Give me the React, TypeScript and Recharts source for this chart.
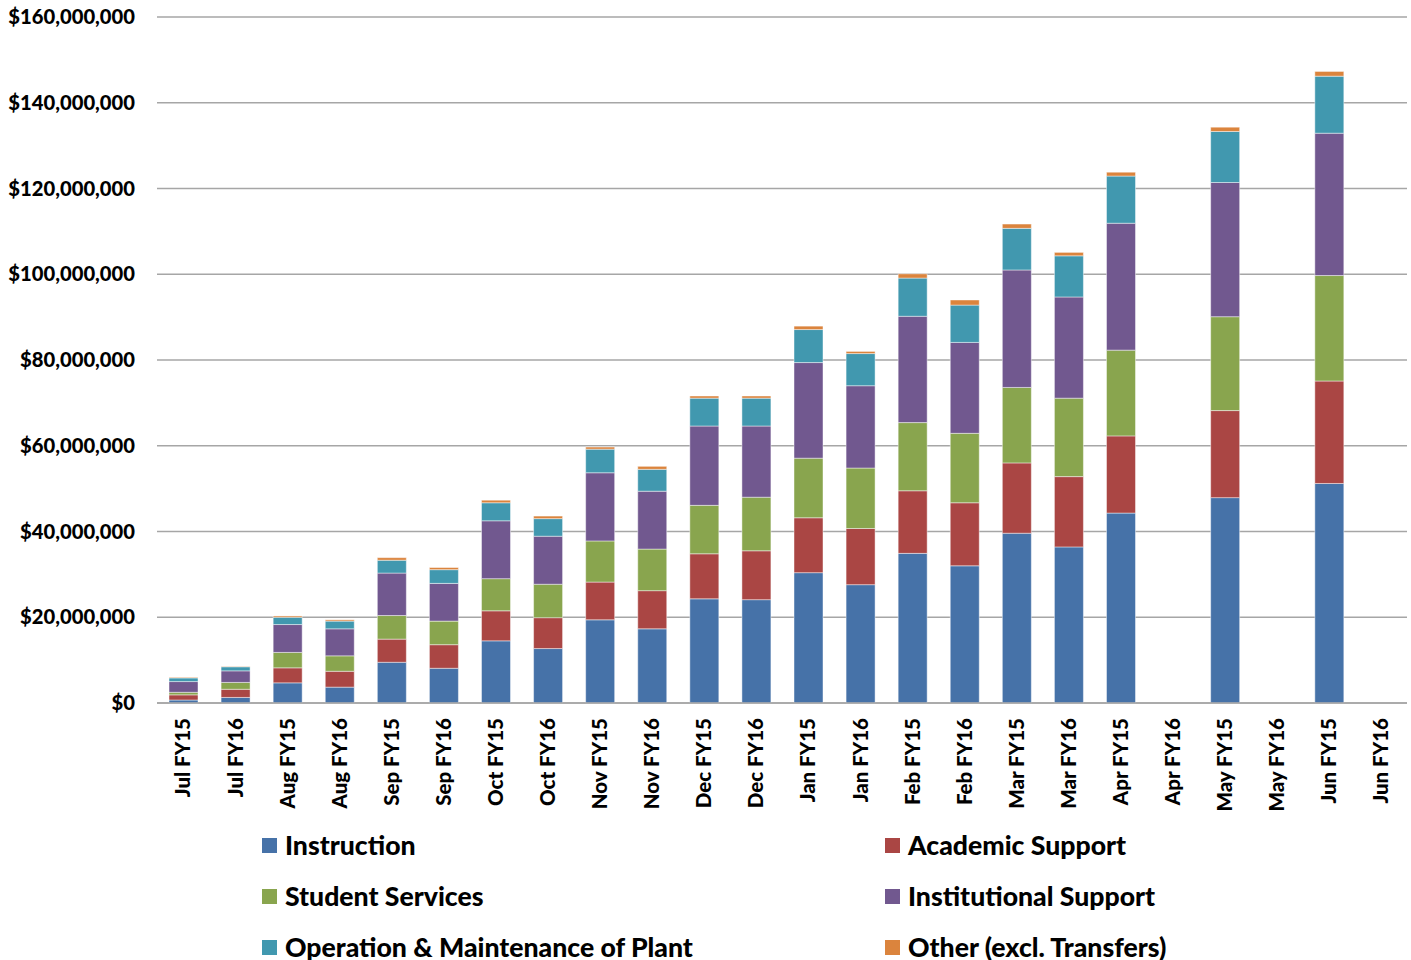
import { BarChart, Bar, XAxis, YAxis, CartesianGrid, Legend } from "recharts";

// ── data (millions of dollars) ──

const months = [
  "Jul FY15", "Jul FY16", "Aug FY15", "Aug FY16", "Sep FY15", "Sep FY16",
  "Oct FY15", "Oct FY16", "Nov FY15", "Nov FY16", "Dec FY15", "Dec FY16",
  "Jan FY15", "Jan FY16", "Feb FY15", "Feb FY16", "Mar FY15", "Mar FY16",
  "Apr FY15", "Apr FY16", "May FY15", "May FY16", "Jun FY15", "Jun FY16",
];

const instruction = [0.7, 1.3, 4.7, 3.7, 9.5, 8.1, 14.5, 12.7, 19.4, 17.3, 24.3, 24.1, 30.4, 27.6, 34.9, 32.0, 39.6, 36.4, 44.3, null, 47.9, null, 51.2, null];
const academicSupport = [1.2, 1.9, 3.5, 3.7, 5.4, 5.5, 7.0, 7.2, 8.8, 8.9, 10.5, 11.4, 12.8, 13.1, 14.6, 14.7, 16.4, 16.4, 18.0, null, 20.3, null, 23.9, null];
const studentServices = [0.6, 1.6, 3.6, 3.6, 5.5, 5.5, 7.5, 7.8, 9.6, 9.7, 11.3, 12.5, 13.9, 14.1, 15.9, 16.2, 17.6, 18.3, 20.0, null, 21.9, null, 24.6, null];
const institutionalSupport = [2.5, 2.7, 6.5, 6.3, 9.9, 8.8, 13.5, 11.2, 15.9, 13.5, 18.5, 16.6, 22.3, 19.2, 24.8, 21.2, 27.4, 23.6, 29.6, null, 31.3, null, 33.2, null];
const operationPlant = [0.85, 0.95, 1.7, 1.8, 3.0, 3.2, 4.2, 4.1, 5.5, 5.1, 6.5, 6.5, 7.7, 7.5, 8.9, 8.7, 9.7, 9.6, 11.0, null, 11.9, null, 13.3, null];
const other = [0.15, 0.1, 0.3, 0.3, 0.6, 0.5, 0.6, 0.6, 0.5, 0.7, 0.5, 0.5, 0.8, 0.5, 1.0, 1.2, 1.0, 0.8, 0.9, null, 1.0, null, 1.1, null];

const yTicks = [0, 20e6, 40e6, 60e6, 80e6, 100e6, 120e6, 140e6, 160e6];

const SERIES = [
  { key: "inst", name: "Instruction", values: instruction, color: "#4672A8" },
  { key: "acad", name: "Academic Support", values: academicSupport, color: "#AA4644" },
  { key: "stud", name: "Student Services", values: studentServices, color: "#89A54E" },
  { key: "insu", name: "Institutional Support", values: institutionalSupport, color: "#71588F" },
  { key: "omp", name: "Operation & Maintenance of Plant", values: operationPlant, color: "#4198AF" },
  { key: "oth", name: "Other (excl. Transfers)", values: other, color: "#DB843D" },
];

const data = months.map((m, i) => {
  const row: Record<string, string | number | null> = { month: m };
  SERIES.forEach((s) => {
    const v = s.values[i];
    row[s.key] = v == null ? null : v * 1e6;
  });
  return row;
});

const FONT = "Lato, 'Open Sans', sans-serif";

function formatDollar(v: number): string {
  return "$" + v.toLocaleString("en-US");
}

function MonthTick({ x, y, payload }: { x?: number; y?: number; payload?: { value: string } }) {
  const ty = (y ?? 0) + 7;
  return (
    <text
      x={x}
      y={ty}
      transform={`rotate(-90, ${x}, ${ty})`}
      textAnchor="end"
      dy="0.36em"
      fontFamily={FONT}
      fontWeight={900}
      fontSize={20.5}
      fill="#000"
    >
      {payload?.value}
    </text>
  );
}

// legend drawn with absolute children so it takes no height from the plot
function LegendBox() {
  return (
    <div style={{ position: "relative", width: 1411, height: 0 }}>
      {SERIES.map((s, i) => {
        const col = i % 2;
        const row = Math.floor(i / 2);
        return (
          <div
            key={s.key}
            style={{
              position: "absolute",
              left: col === 0 ? 262 : 885,
              top: row * 51,
              height: 32,
              display: "flex",
              alignItems: "center",
              fontFamily: FONT,
              fontWeight: 900,
              fontSize: 26.6,
              color: "#000",
              whiteSpace: "nowrap",
            }}
          >
            <span style={{ display: "inline-block", width: 15, height: 15, background: s.color, marginRight: 8 }} />
            {s.name}
          </div>
        );
      })}
    </div>
  );
}

export default function App() {
  return (
    <div style={{ position: "absolute", left: 0, top: 0, width: 1411, height: 960, overflow: "hidden", background: "#fff" }}>
      <BarChart width={1411} height={960} data={data} margin={{ top: 17, right: 4, bottom: 147, left: 0 }}>
        <CartesianGrid vertical={false} stroke="#A6A6A6" strokeWidth={1.5} />
        <XAxis
          dataKey="month"
          interval={0}
          height={110}
          tick={<MonthTick />}
          tickLine={false}
          axisLine={{ stroke: "#A6A6A6", strokeWidth: 1.5 }}
        />
        <YAxis
          domain={[0, 160e6]}
          ticks={yTicks}
          width={157}
          tickFormatter={formatDollar}
          tick={{ fontFamily: FONT, fontWeight: 900, fontSize: 20.2, fill: "#000" }}
          tickLine={false}
          tickSize={0}
          tickMargin={22}
          axisLine={false}
        />
        <Legend
          verticalAlign="bottom"
          content={() => <LegendBox />}
          wrapperStyle={{ position: "absolute", left: 0, top: 829, width: 1411, height: 0 }}
        />
        {SERIES.map((s) => (
          <Bar
            key={s.key}
            dataKey={s.key}
            name={s.name}
            stackId="a"
            fill={s.color}
            stroke="rgba(255,255,255,0.45)"
            strokeWidth={1}
            barSize={29}
            isAnimationActive={false}
          />
        ))}
      </BarChart>
    </div>
  );
}
